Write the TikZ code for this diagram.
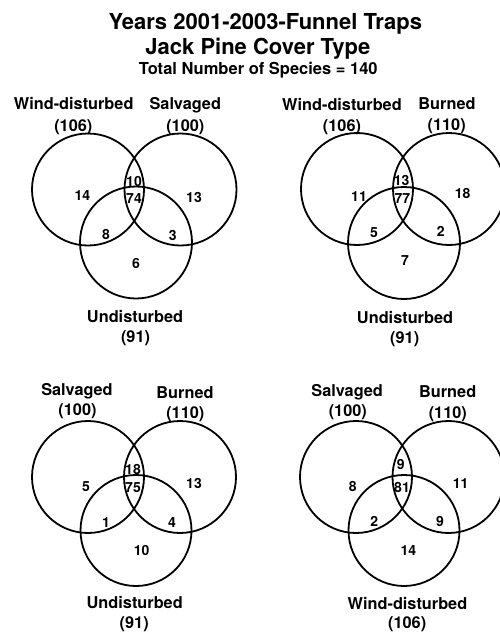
\documentclass[tikz,border=0pt]{standalone}
\usepackage{fontspec}
\setmainfont{TeX Gyre Heros}
\usepackage{tikz}

\begin{document}
\begin{tikzpicture}[x=1pt,y=-1pt,
    ttl/.style={inner sep=0pt,font=\fontsize{22}{26}\selectfont\bfseries,text height=15.8pt,text depth=0pt},
    sub/.style={inner sep=0pt,font=\fontsize{16.5}{20}\selectfont\bfseries,text height=11.8pt,text depth=0pt},
    lbl/.style={inner sep=0pt,font=\fontsize{16.3}{20}\selectfont\bfseries,text height=11.7pt,text depth=0pt},
    num/.style={inner sep=0pt,font=\fontsize{14}{17}\selectfont\bfseries,text height=10pt,text depth=0pt},
    ring/.style={line width=1.8pt}]
            \useasboundingbox (0,0) rectangle (499,632);
            \node[ttl] (title) at (265.3,21.7) {Years 2001-2003-Funnel Traps};
            \node[ttl] (cover) at (257.8,46.7) {Jack Pine Cover Type};
            \node[sub] (total) at (258.3,69) {Total Number of Species = 140};

            \draw[ring] (88,189.5) circle (56);
            \draw[ring] (180.5,189.5) circle (56);
            \draw[ring] (136,242.5) circle (56);
            \node[lbl] (aWind) at (73.7,103.3) {Wind-disturbed};
            \node[lbl] (aWindN) at (73.3,125.7) {(106)};
            \node[lbl] (aSalv) at (185.3,103.3) {Salvaged};
            \node[lbl] (aSalvN) at (185.3,125.7) {(100)};
            \node[lbl] (aUnd) at (135,316.7) {Undisturbed};
            \node[lbl] (aUndN) at (135.5,336.7) {(91)};
            \node[num] (aW) at (82.3,195.7) {14};
            \node[num] (aWS) at (134,181.7) {10};
            \node[num] (aAll) at (134,198.3) {74};
            \node[num] (aS) at (194,197) {13};
            \node[num] (aWU) at (106,234) {8};
            \node[num] (aSU) at (172.7,235) {3};
            \node[num] (aU) at (136,263.3) {6};

            \draw[ring] (357,189) circle (56);
            \draw[ring] (449,189) circle (56);
            \draw[ring] (404,243) circle (56);
            \node[lbl] (bWind) at (342,105) {Wind-disturbed};
            \node[lbl] (bWindN) at (342,126) {(106)};
            \node[lbl] (bBurn) at (447,104) {Burned};
            \node[lbl] (bBurnN) at (446.7,125) {(110)};
            \node[lbl] (bUnd) at (405,317.7) {Undisturbed};
            \node[lbl] (bUndN) at (404.7,337.3) {(91)};
            \node[num] (bW) at (359,196) {11};
            \node[num] (bWB) at (401.7,180) {13};
            \node[num] (bAll) at (402.3,198.3) {77};
            \node[num] (bB) at (462.7,193.3) {18};
            \node[num] (bWU) at (374,232) {5};
            \node[num] (bBU) at (440.7,231.7) {2};
            \node[num] (bU) at (405,260) {7};

            \draw[ring] (88,477) circle (56);
            \draw[ring] (180,477) circle (56);
            \draw[ring] (136,530.5) circle (55.5);
            \node[lbl] (cSalv) at (77,390) {Salvaged};
            \node[lbl] (cSalvN) at (77.5,410) {(100)};
            \node[lbl] (cBurn) at (185,392.7) {Burned};
            \node[lbl] (cBurnN) at (185.3,412.7) {(110)};
            \node[lbl] (cUnd) at (134.7,603) {Undisturbed};
            \node[lbl] (cUndN) at (134.2,622.3) {(91)};
            \node[num] (cS) at (86,486) {5};
            \node[num] (cSB) at (133,469) {18};
            \node[num] (cAll) at (133,487) {75};
            \node[num] (cB) at (194,483) {13};
            \node[num] (cSU) at (106,522) {1};
            \node[num] (cBU) at (172,522) {4};
            \node[num] (cU) at (141.7,550) {10};

            \draw[ring] (356,477) circle (56);
            \draw[ring] (448.5,477) circle (56);
            \draw[ring] (404,530.5) circle (55.5);
            \node[lbl] (dSalv) at (347.2,390.7) {Salvaged};
            \node[lbl] (dSalvN) at (347.8,411) {(100)};
            \node[lbl] (dBurn) at (447.7,391.7) {Burned};
            \node[lbl] (dBurnN) at (447.8,412.3) {(110)};
            \node[lbl] (dWind) at (407.5,603.5) {Wind-disturbed};
            \node[lbl] (dWindN) at (407.2,622.3) {(106)};
            \node[num] (dS) at (352.7,486) {8};
            \node[num] (dSB) at (400.7,464.3) {9};
            \node[num] (dAll) at (402,487.7) {81};
            \node[num] (dB) at (460.7,483.3) {11};
            \node[num] (dSW) at (374.3,521.7) {2};
            \node[num] (dBW) at (440,521.7) {9};
            \node[num] (dW) at (408.3,550) {14};
        \end{tikzpicture}
\end{document}
